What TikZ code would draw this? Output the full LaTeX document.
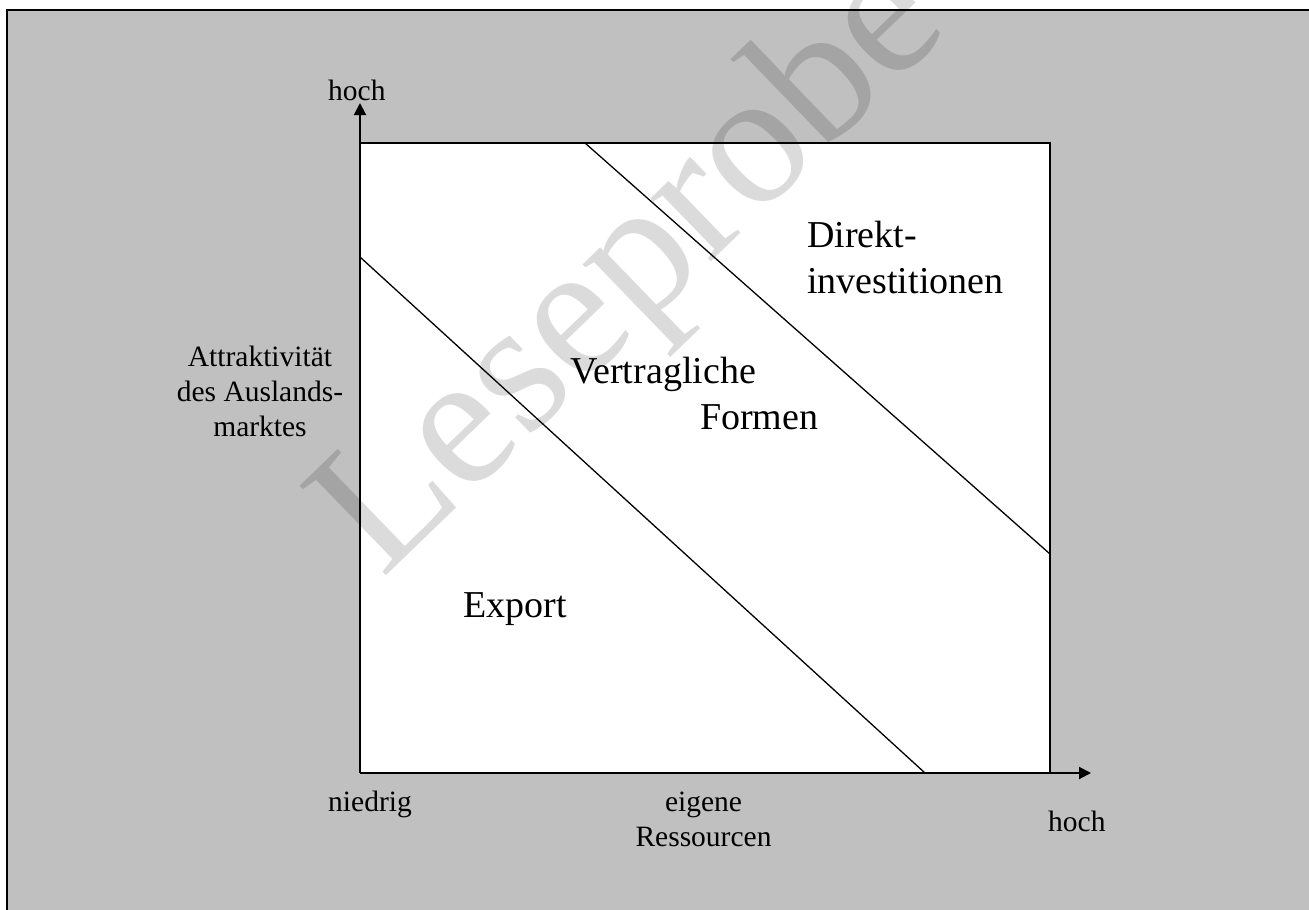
\documentclass[tikz,border=0pt]{standalone}
\usepackage{fontspec}
\setmainfont{Liberation Serif}
\usetikzlibrary{arrows.meta}
\definecolor{bggray}{RGB}{192,192,192}
\begin{document}
\begin{tikzpicture}[x=1pt,y=-1pt,
  small/.style={font=\fontsize{29.5}{35}\selectfont, inner sep=0pt, align=center},
  big/.style={font=\fontsize{38}{46}\selectfont, inner sep=0pt, align=left},
  axisline/.style={line width=2pt, -{Triangle[length=12pt,width=12pt]}},
  boxline/.style={line width=2pt},
  diag/.style={line width=1.3pt},
  frameline/.style={line width=2pt},
  watermark/.style={font=\fontsize{190}{190}\selectfont, text=black, opacity=0.14, inner sep=0pt}]
\useasboundingbox (0,0) rectangle (1309,910);
\fill[white] (0,0) rectangle (1309,910);
% outer frame
\fill[bggray] (7,10) rectangle (1320,920);
\draw[frameline] (7,925) -- (7,10) -- (1320,10);
% chart area
\coordinate (O) at (360,773);
\coordinate (TL) at (360,143);
\coordinate (TR) at (1050,143);
\coordinate (BR) at (1050,773);
\coordinate (ytip) at (360,103);
\coordinate (xtip) at (1091,773);
\fill[white] (O) rectangle (TR);
\draw[boxline] (TL) -- (TR) -- (BR);
\draw[axisline] (O) -- (ytip);
\draw[axisline] (O) -- (xtip);
% diagonals
\coordinate (d1a) at (360,257);
\coordinate (d1b) at (925,773);
\coordinate (d2a) at (585,143);
\coordinate (d2b) at (1050,554);
\draw[diag] (d1a) -- (d1b);
\draw[diag] (d2a) -- (d2b);
% labels
\node[small, anchor=base west] (yhigh) at (328,100) {hoch};
\node[small, anchor=base] (ylabel) at (260,436) {Attraktivität\\des Auslands-\\marktes};
\node[small, anchor=base west] (xlow) at (328,811) {niedrig};
\node[small, anchor=base] (xlabel) at (703.5,846) {eigene\\Ressourcen};
\node[small, anchor=base west] (xhigh) at (1048,831) {hoch};
\node[big, anchor=base west] (export) at (463,617) {Export};
\node[big, anchor=base west] (vert) at (570,383) {Vertragliche};
\node[big, anchor=base west] (formen) at (700,429) {Formen};
\node[big, anchor=base west] (direkt) at (807,293) {Direkt-\\investitionen};
% watermark
\node[watermark, anchor=base west, rotate=44] (wm) at (382,580) {Leseprobe};
\end{tikzpicture}
\end{document}
